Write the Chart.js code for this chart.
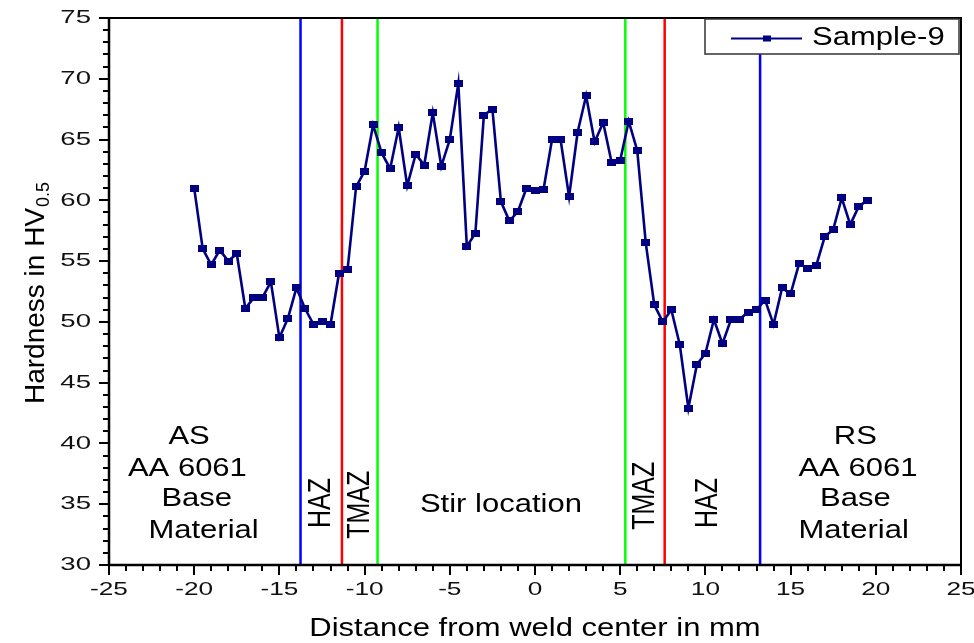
<!DOCTYPE html>
<html>
<head>
<meta charset="utf-8">
<script src="https://cdn.jsdelivr.net/npm/chart.js@4.4.1/dist/chart.umd.min.js"></script>
<style>
  html, body { margin: 0; padding: 0; background: #ffffff; }
  #wrap { width: 974px; height: 643px; }
</style>
</head>
<body>
<div id="wrap"><canvas id="c" width="974" height="643"></canvas></div>
<script>
// ---------- data ----------
const seriesName = 'Sample-9';
const distances = [
  -20, -19.5, -19, -18.5, -18, -17.5, -17, -16.5, -16, -15.5,
  -15, -14.5, -14, -13.5, -13, -12.5, -12, -11.5, -11, -10.5,
  -10, -9.5, -9, -8.5, -8, -7.5, -7, -6.5, -6, -5.5,
  -5, -4.5, -4, -3.5, -3, -2.5, -2, -1.5, -1, -0.5,
  0, 0.5, 1, 1.5, 2, 2.5, 3, 3.5, 4, 4.5,
  5, 5.5, 6, 6.5, 7, 7.5, 8, 8.5, 9, 9.5,
  10, 10.5, 11, 11.5, 12, 12.5, 13, 13.5, 14, 14.5,
  15, 15.5, 16, 16.5, 17, 17.5, 18, 18.5, 19, 19.5
];
const hardness = [
  61.0, 56.0, 54.7, 55.9, 55.0, 55.6, 51.1, 52.0, 52.0, 53.3,
  48.7, 50.3, 52.8, 51.1, 49.8, 50.0, 49.8, 54.0, 54.3, 61.1,
  62.4, 66.2, 63.9, 62.6, 66.0, 61.2, 63.8, 62.9, 67.2, 62.8,
  65.0, 69.6, 56.2, 57.3, 67.0, 67.5, 59.9, 58.3, 59.1, 61.0,
  60.8, 60.9, 65.0, 65.0, 60.3, 65.6, 68.6, 64.8, 66.4, 63.1,
  63.3, 66.5, 64.1, 56.5, 51.4, 50.0, 51.0, 48.1, 42.9, 46.5,
  47.4, 50.2, 48.2, 50.2, 50.2, 50.8, 51.0, 51.8, 49.8, 52.8,
  52.3, 54.8, 54.4, 54.6, 57.0, 57.6, 60.2, 58.0, 59.5, 60.0
];
const blueBoundaries = [-13.76, 13.21];   // HAZ / base material
const redBoundaries = [-11.33, 7.61];     // HAZ / TMAZ
const greenBoundaries = [-9.24, 5.30];    // TMAZ / stir zone
const xTicks = [-25, -20, -15, -10, -5, 0, 5, 10, 15, 20, 25];
const yTicks = [30, 35, 40, 45, 50, 55, 60, 65, 70, 75];
const xTitle = 'Distance from weld center in mm';
const yTitle = 'Hardness in HV';
const yTitleSub = '0.5';

// ---------- styling / helpers ----------
const FONT = '"Liberation Sans", Arial, sans-serif';
const NAVY = '#000080';

function marker() {
  const m = document.createElement('canvas');
  m.width = 9; m.height = 7;
  const g = m.getContext('2d');
  g.fillStyle = NAVY;
  g.fillRect(0, 0, 9, 7);
  return m;
}

function stretchedText(ctx, text, x, y, size, sx, align, rotate) {
  ctx.save();
  ctx.translate(x, y);
  ctx.font = size + 'px ' + FONT;
  ctx.textAlign = align || 'center';
  ctx.textBaseline = 'middle';
  if (rotate) {
    ctx.rotate(-Math.PI / 2);
    ctx.scale(1, sx);
  } else {
    ctx.scale(sx, 1);
  }
  ctx.fillText(text, 0, 0);
  ctx.restore();
}

function boundaryDataset(values, color) {
  return values.map(v => ({
    label: '',
    data: [{ x: v, y: yTicks[0] }, { x: v, y: yTicks[yTicks.length - 1] }],
    showLine: true,
    borderColor: color,
    borderWidth: 2.5,
    pointRadius: 0,
    fill: false
  }));
}

const annotations = [
  { t: 'AS', x: -20.3, y: 40.5 },
  { t: 'AA 6061', x: -20.4, y: 37.85 },
  { t: 'Base', x: -19.85, y: 35.4 },
  { t: 'Material', x: -19.45, y: 32.75 },
  { t: 'RS', x: 18.8, y: 40.5 },
  { t: 'AA 6061', x: 18.95, y: 37.85 },
  { t: 'Base', x: 18.8, y: 35.4 },
  { t: 'Material', x: 18.7, y: 32.75 },
  { t: 'Stir location', x: -2.0, y: 34.95 },
  { t: 'HAZ', x: -12.55, y: 35.1, rot: true },
  { t: 'TMAZ', x: -10.25, y: 34.95, rot: true },
  { t: 'TMAZ', x: 6.5, y: 35.7, rot: true },
  { t: 'HAZ', x: 10.15, y: 35.1, rot: true }
];

const decor = {
  id: 'decor',
  afterDraw(chart) {
    const ctx = chart.ctx;
    const xs = chart.scales.x, ys = chart.scales.y;
    const a = chart.chartArea;
    ctx.save();
    // frame top/right
    ctx.strokeStyle = '#000';
    ctx.lineWidth = 2;
    ctx.beginPath();
    ctx.moveTo(a.left, a.top); ctx.lineTo(a.right, a.top); ctx.lineTo(a.right, a.bottom);
    ctx.stroke();
    // axis lines (bold)
    ctx.lineWidth = 2.5;
    ctx.beginPath();
    ctx.moveTo(a.left, a.top); ctx.lineTo(a.left, a.bottom); ctx.lineTo(a.right, a.bottom);
    ctx.stroke();
    // tick marks (major + minor)
    ctx.lineWidth = 2;
    ctx.beginPath();
    for (let v = xTicks[0]; v <= xTicks[xTicks.length - 1]; v += 1) {
      const px = Math.round(xs.getPixelForValue(v));
      const len = (v % 5 === 0) ? 10 : 6;
      ctx.moveTo(px, a.bottom); ctx.lineTo(px, a.bottom + len);
    }
    for (let v = yTicks[0]; v <= yTicks[yTicks.length - 1]; v += 1) {
      const py = Math.round(ys.getPixelForValue(v));
      const len = (v % 5 === 0) ? 10 : 6;
      ctx.moveTo(a.left, py); ctx.lineTo(a.left - len, py);
    }
    ctx.stroke();
    // tick labels
    ctx.fillStyle = '#111';
    xTicks.forEach(v => {
      stretchedText(ctx, String(v), xs.getPixelForValue(v), a.bottom + 25, 19, 1.38, 'center');
    });
    yTicks.forEach(v => {
      stretchedText(ctx, String(v), a.left - 18, ys.getPixelForValue(v), 19, 1.45, 'right');
    });
    // axis titles
    ctx.fillStyle = '#000';
    stretchedText(ctx, xTitle, (a.left + a.right) / 2, 629, 25, 1.24, 'center');
    ctx.save();
    ctx.translate(44, 404);
    ctx.rotate(-Math.PI / 2);
    ctx.textAlign = 'left';
    ctx.textBaseline = 'alphabetic';
    ctx.font = '28px ' + FONT;
    ctx.fillText(yTitle, 0, 0);
    const w = ctx.measureText(yTitle).width;
    ctx.font = '18px ' + FONT;
    ctx.fillText(yTitleSub, w + 1, 5);
    ctx.restore();
    // zone annotations
    annotations.forEach(n => {
      stretchedText(ctx, n.t, xs.getPixelForValue(n.x), ys.getPixelForValue(n.y), 25, 1.24, 'center', n.rot);
    });
    // legend
    const lx = a.right - 256, ly = a.top + 1, lw = 254, lh = 35;
    ctx.fillStyle = '#fff';
    ctx.fillRect(lx, ly, lw, lh);
    ctx.strokeStyle = '#333';
    ctx.lineWidth = 1.5;
    ctx.strokeRect(lx, ly, lw, lh);
    const cy = ly + lh / 2 + 2;
    ctx.strokeStyle = NAVY;
    ctx.lineWidth = 2;
    ctx.beginPath(); ctx.moveTo(lx + 26, cy); ctx.lineTo(lx + 97, cy); ctx.stroke();
    ctx.fillStyle = NAVY;
    ctx.fillRect(lx + 58, cy - 3, 8, 6);
    ctx.fillStyle = '#000';
    stretchedText(ctx, seriesName, lx + 107, cy, 25, 1.24, 'left');
    ctx.restore();
  }
};

const sampleData = distances.map((d, i) => ({ x: d, y: hardness[i] }));

new Chart(document.getElementById('c'), {
  type: 'scatter',
  data: {
    datasets: [
      {
        label: seriesName,
        data: sampleData,
        showLine: true,
        borderColor: NAVY,
        backgroundColor: NAVY,
        borderWidth: 2.6,
        pointStyle: marker(),
        pointRadius: 4,
        tension: 0
      },
      ...boundaryDataset(blueBoundaries, '#0000ff'),
      ...boundaryDataset(redBoundaries, '#ff0000'),
      ...boundaryDataset(greenBoundaries, '#00ff00')
    ]
  },
  options: {
    responsive: false,
    animation: false,
    devicePixelRatio: 1,
    layout: { padding: { top: 18, right: 13, left: 0, bottom: 0 } },
    plugins: { legend: { display: false }, tooltip: { enabled: false } },
    scales: {
      x: {
        type: 'linear',
        min: xTicks[0],
        max: xTicks[xTicks.length - 1],
        ticks: { display: false, stepSize: 5 },
        grid: { display: false },
        border: { display: false },
        afterFit(s) { s.height = 78; }
      },
      y: {
        type: 'linear',
        min: yTicks[0],
        max: yTicks[yTicks.length - 1],
        ticks: { display: false, stepSize: 5 },
        grid: { display: false },
        border: { display: false },
        afterFit(s) { s.width = 109; }
      }
    }
  },
  plugins: [decor]
});
</script>
</body>
</html>
